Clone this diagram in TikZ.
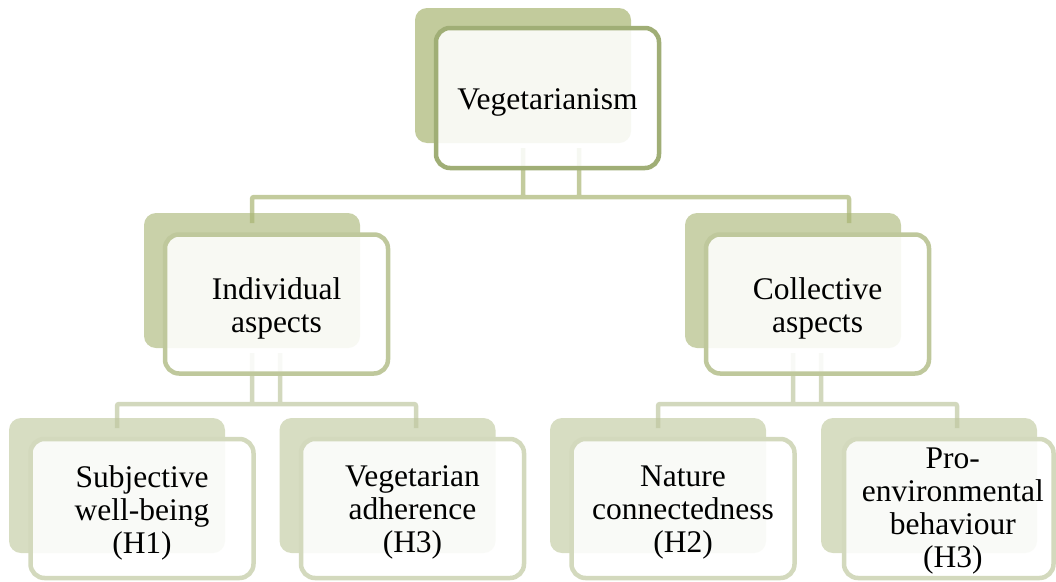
\documentclass[tikz,border=0pt]{standalone}
\usepackage{fontspec}
\setmainfont{Liberation Serif}
\usetikzlibrary{calc}

% palette: one shade per level of the hierarchy
\definecolor{backA}{HTML}{C2CB9C}
\definecolor{lineA}{HTML}{A0AE76}
\definecolor{backB}{HTML}{C9D1A9}
\definecolor{lineB}{HTML}{BFC89C}
\definecolor{backC}{HTML}{D7DDC2}
\definecolor{lineC}{HTML}{D3D9BD}
\definecolor{connA}{HTML}{A9B574}
\definecolor{connB}{HTML}{BFC7A1}

\begin{document}
\begin{tikzpicture}[x=1pt,y=-1pt,
  back/.style={draw=none, rounded corners=12pt, minimum width=216pt,
    minimum height=135pt, inner sep=0pt, outer sep=0pt},
  front/.style={fill=white, fill opacity=0.87, line width=4.5pt,
    rounded corners=14pt, minimum width=223pt, minimum height=139pt,
    inner sep=0pt, outer sep=0pt},
  caption/.style={align=center, inner sep=0pt,
    font=\fontsize{31.5pt}{33pt}\selectfont},
  connone/.style={draw=connA, draw opacity=0.7, line width=4.5pt, rounded corners=2pt},
  conntwo/.style={draw=connB, draw opacity=0.7, line width=4.5pt, rounded corners=2pt}]
\useasboundingbox (0,0) rectangle (1056,581);

% shadow blocks
\node[back, fill=backA] (topb) at (523,75.5) {};
\node[back, fill=backB] (indb) at (252,280.5) {};
\node[back, fill=backB] (colb) at (793,280.5) {};
\node[back, fill=backC] (subb) at (117,485.5) {};
\node[back, fill=backC] (vegb) at (387.5,485.5) {};
\node[back, fill=backC] (natb) at (658,485.5) {};
\node[back, fill=backC] (prob) at (929,485.5) {};

% bus levels and second drop points
\coordinate (bus1) at (0,197);
\coordinate (bus2) at (0,404);
\coordinate (t2) at ($(topb.south)+(56,0)$);
\coordinate (c2) at ($(colb.north)+(56,0)$);
\coordinate (i2) at ($(indb.south)+(28,0)$);
\coordinate (b2) at ($(vegb.north)+(28.5,0)$);
\coordinate (k2) at ($(colb.south)+(28,0)$);
\coordinate (p2) at ($(prob.north)+(28,0)$);

% connectors
\draw[connone]
  ([yshift=-5pt]topb.south) -- (topb.south |- bus1)
  ([yshift=-5pt]t2) -- (t2 |- bus1)
  ([yshift=-10pt]indb.north) -- (indb.north |- bus1) -- (c2 |- bus1) -- ([yshift=-10pt]c2);
\draw[conntwo]
  ([yshift=-5pt]indb.south) -- (indb.south |- bus2)
  ([yshift=-5pt]i2) -- (i2 |- bus2)
  ([yshift=-10pt]subb.north) -- (subb.north |- bus2) -- (b2 |- bus2) -- ([yshift=-10pt]b2);
\draw[conntwo]
  ([yshift=-5pt]colb.south) -- (colb.south |- bus2)
  ([yshift=-5pt]k2) -- (k2 |- bus2)
  ([yshift=-10pt]natb.north) -- (natb.north |- bus2) -- (p2 |- bus2) -- ([yshift=-10pt]p2);

% framed blocks
\node[front, draw=lineA, minimum height=140pt] (top) at (547.5,98) {};
\node[front, draw=lineB] (ind) at (276.5,304) {};
\node[front, draw=lineB] (col) at (817.5,304) {};
\node[front, draw=lineC] (sub) at (142,508.5) {};
\node[front, draw=lineC] (veg) at (412.5,508.5) {};
\node[front, draw=lineC] (nat) at (683,508.5) {};
\node[front, draw=lineC, minimum width=209.5pt] (pro) at (948.75,508.5) {};

% block captions
\node[caption] (topt) at ($(top)+(0,4)$) {Vegetarianism};
\node[caption] (indt) at ($(ind)+(0,4)$) {Individual\\aspects};
\node[caption] (colt) at ($(col)+(0,4)$) {Collective\\aspects};
\node[caption] (subt) at ($(sub)+(0,4)$) {Subjective\\well-being\\(H1)};
\node[caption] (vegt) at ($(veg)+(0,4)$) {Vegetarian\\adherence\\(H3)};
\node[caption] (natt) at ($(nat)+(0,4)$) {Nature\\connectedness\\(H2)};
\node[caption] (prot) at ($(pro)+(4,3)$) {Pro-\\environmental\\behaviour\\(H3)};
\end{tikzpicture}
\end{document}
